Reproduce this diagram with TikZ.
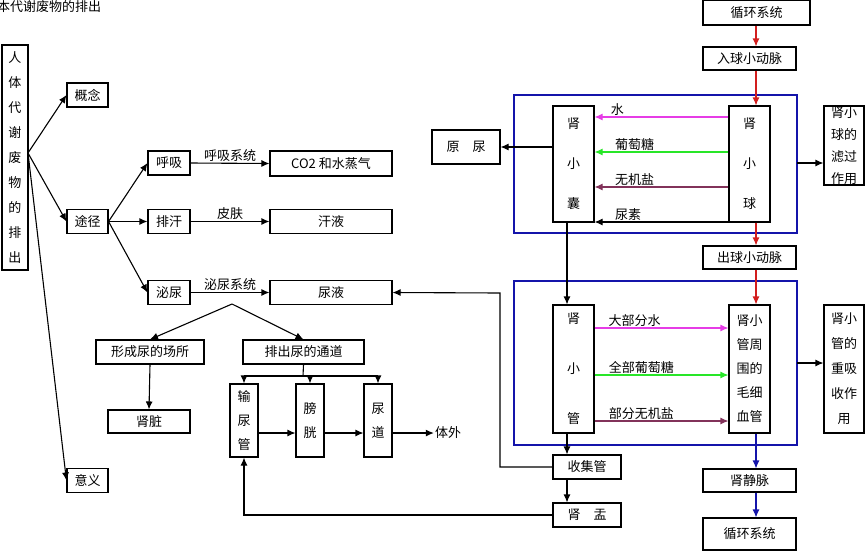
\documentclass[tikz,border=0pt]{standalone}
\usepackage{fontspec}
\setmainfont{Noto Sans CJK SC}
\usetikzlibrary{arrows.meta}
\definecolor{mag}{RGB}{230,60,230}
\definecolor{grn}{RGB}{40,230,40}
\definecolor{pur}{RGB}{130,50,90}
\definecolor{rd}{RGB}{210,30,30}
\definecolor{bl}{RGB}{20,20,170}
\begin{document}
\begin{tikzpicture}[x=1pt,y=-1pt,
  box/.style={draw,line width=1.1pt,inner sep=0pt,align=center,font=\fontsize{13}{15}\selectfont},
  vb/.style={box,font=\fontsize{13}{#1}\selectfont},
  lab/.style={inner sep=1pt,font=\fontsize{13}{15}\selectfont},
  ar/.style={-{Latex[length=8pt,width=7pt]},line width=1.1pt},
  ln/.style={line width=1.1pt}]
\useasboundingbox (0,0) rectangle (866,552);
\node[lab,anchor=west] (title) at (-4,7) {本代谢废物的排出};
% left part
\node[vb=25,minimum width=26,minimum height=225] (body) at (15,157.5) {人\\体\\代\\谢\\废\\物\\的\\排\\出};
\node[box,minimum width=41,minimum height=24] (gn) at (87.5,95) {概念};
\node[box,minimum width=41,minimum height=24] (tj) at (87.5,221.5) {途径};
\node[box,minimum width=41,minimum height=24] (yy) at (87.5,480.5) {意义};
\coordinate (bo) at (28,153);
\draw[ar] (bo) -- (gn.west);
\draw[ar] (bo) -- (tj.west);
\draw[ar] (bo) -- (yy.west);
\node[box,minimum width=42,minimum height=24] (hx) at (169,163) {呼吸};
\node[box,minimum width=42,minimum height=24] (ph) at (169,221.5) {排汗};
\node[box,minimum width=42,minimum height=24] (mn) at (169,292.5) {泌尿};
\draw[ar] (tj.east) -- (hx.west);
\draw[ar] (tj.east) -- (ph.west);
\draw[ar] (tj.east) -- (mn.west);
\node[box,minimum width=122,minimum height=25] (co) at (331,163.5) {CO2 和水蒸气};
\node[box,minimum width=122,minimum height=24] (hy) at (331,221.5) {汗液};
\node[box,minimum width=122,minimum height=24] (ny) at (331,292.5) {尿液};
\draw[ar] (hx.east) -- node[lab,above] {呼吸系统} (co.west);
\draw[ar] (ph.east) -- node[lab,above] {皮肤} (hy.west);
\draw[ar] (mn.east) -- node[lab,above] {泌尿系统} (ny.west);
\node[box,minimum width=108,minimum height=24] (cs) at (150,352) {形成尿的场所};
\node[box,minimum width=121,minimum height=24] (td) at (303.5,352) {排出尿的通道};
\coordinate (mb) at (232,304);
\draw[ar] (mb) -- (cs.north);
\draw[ar] (mb) -- (td.north);
\node[box,minimum width=82,minimum height=23] (sz) at (149,421.5) {肾脏};
\draw[ar] (cs.south) -- (sz.north);
\node[vb=24,minimum width=28,minimum height=73] (sng) at (244,420.5) {输\\尿\\管};
\node[vb=24,minimum width=28,minimum height=73] (pg) at (310,420.5) {膀\\胱};
\node[vb=24,minimum width=28,minimum height=73] (nd) at (378,420.5) {尿\\道};
\node[lab] (tw) at (448,433) {体外};
\draw[ln] (td.south) -- (303,376) coordinate (tds);
\draw[ln] (244,376) -- (378,376);
\draw[ar] (244,376) -- (sng.north);
\draw[ar] (310,376) -- (pg.north);
\draw[ar] (378,376) -- (nd.north);
\draw[ar] (sng.east |- 0,433) -- (pg.west |- 0,433);
\draw[ar] (pg.east |- 0,433) -- (nd.west |- 0,433);
\draw[ar] (nd.east |- 0,433) -- (tw.west);
% right part
\node[box,minimum width=107,minimum height=25] (xh1) at (756.5,12.5) {循环系统};
\node[box,minimum width=93,minimum height=23] (rq) at (749.5,58.5) {入球小动脉};
\draw[line width=1.1pt,draw=bl] (514,95) rectangle (797,233);
\draw[line width=1.1pt,draw=bl] (514,281) rectangle (797,445);
\node[vb=40,minimum width=41,minimum height=116] (xn) at (573.5,164) {肾\\小\\囊};
\node[vb=40,minimum width=41,minimum height=116] (xq) at (749.5,164) {肾\\小\\球};
\draw[ar,draw=rd] (xh1.south -| 756,0) -- (rq.north -| 756,0);
\draw[ar,draw=rd] (rq.south -| 756,0) -- (xq.north -| 756,0);
\draw[ar,draw=mag] (xq.west |- 0,117) -- node[lab,above,pos=0.83] {水} (xn.east |- 0,117);
\draw[ar,draw=grn] (xq.west |- 0,152) -- node[lab,above,pos=0.7] {葡萄糖} (xn.east |- 0,152);
\draw[ar,draw=pur] (xq.west |- 0,187) -- node[lab,above,pos=0.7] {无机盐} (xn.east |- 0,187);
\draw[ar] (xq.west |- 0,222) -- node[lab,above,pos=0.75] {尿素} (xn.east |- 0,222);
\node[box,minimum width=68,minimum height=34] (yn) at (466,147) {原\quad 尿};
\draw[ar] (xn.west |- 0,147) -- (yn.east);
\node[vb=22,minimum width=40,minimum height=79] (lg) at (844,145.5) {肾小\\球的\\滤过\\作用};
\draw[ar] (797,163) -- (lg.west |- 0,163);
\node[box,minimum width=93,minimum height=23] (cq) at (749.5,257.5) {出球小动脉};
\draw[ar,draw=rd] (xq.south -| 756,0) -- (cq.north -| 756,0);
\node[vb=50,minimum width=41,minimum height=128] (xg) at (573.5,369) {肾\\小\\管};
\node[vb=24,minimum width=41,minimum height=128] (mx) at (749.5,369) {肾小\\管周\\围的\\毛细\\血管};
\draw[ar,draw=rd] (cq.south -| 756,0) -- (mx.north -| 756,0);
\draw[ar,draw=mag] (xg.east |- 0,328) -- node[lab,above,pos=0.3] {大部分水} (mx.west |- 0,328);
\draw[ar,draw=grn] (xg.east |- 0,375) -- node[lab,above,pos=0.35] {全部葡萄糖} (mx.west |- 0,375);
\draw[ar,draw=pur] (xg.east |- 0,421) -- node[lab,above,pos=0.35] {部分无机盐} (mx.west |- 0,421);
\node[vb=25,minimum width=40,minimum height=128] (cx) at (844,369) {肾小\\管的\\重吸\\收作\\用};
\draw[ar] (797,363) -- (cx.west |- 0,363);
\draw[ar] (xn.south -| 567,0) -- (xg.north -| 567,0);
\node[box,minimum width=68,minimum height=24] (sj) at (587,467) {收集管};
\node[box,minimum width=68,minimum height=24] (sy) at (587,515) {肾\quad 盂};
\draw[ar] (xg.south -| 567,0) -- (sj.north -| 567,0);
\draw[ar] (sj.south -| 567,0) -- (sy.north -| 567,0);
\draw[ar] (sj.west) -- (500,467) -- (500,293) -- (ny.east);
\draw[ar] (sy.west) -- (244,515) -- (sng.south);
\node[box,minimum width=93,minimum height=23] (jm) at (749.5,480.5) {肾静脉};
\node[box,minimum width=93,minimum height=32] (xh2) at (749.5,534) {循环系统};
\draw[ar,draw=bl] (mx.south -| 756,0) -- (jm.north -| 756,0);
\draw[ar,draw=bl] (jm.south -| 756,0) -- (xh2.north -| 756,0);
\end{tikzpicture}
\end{document}
